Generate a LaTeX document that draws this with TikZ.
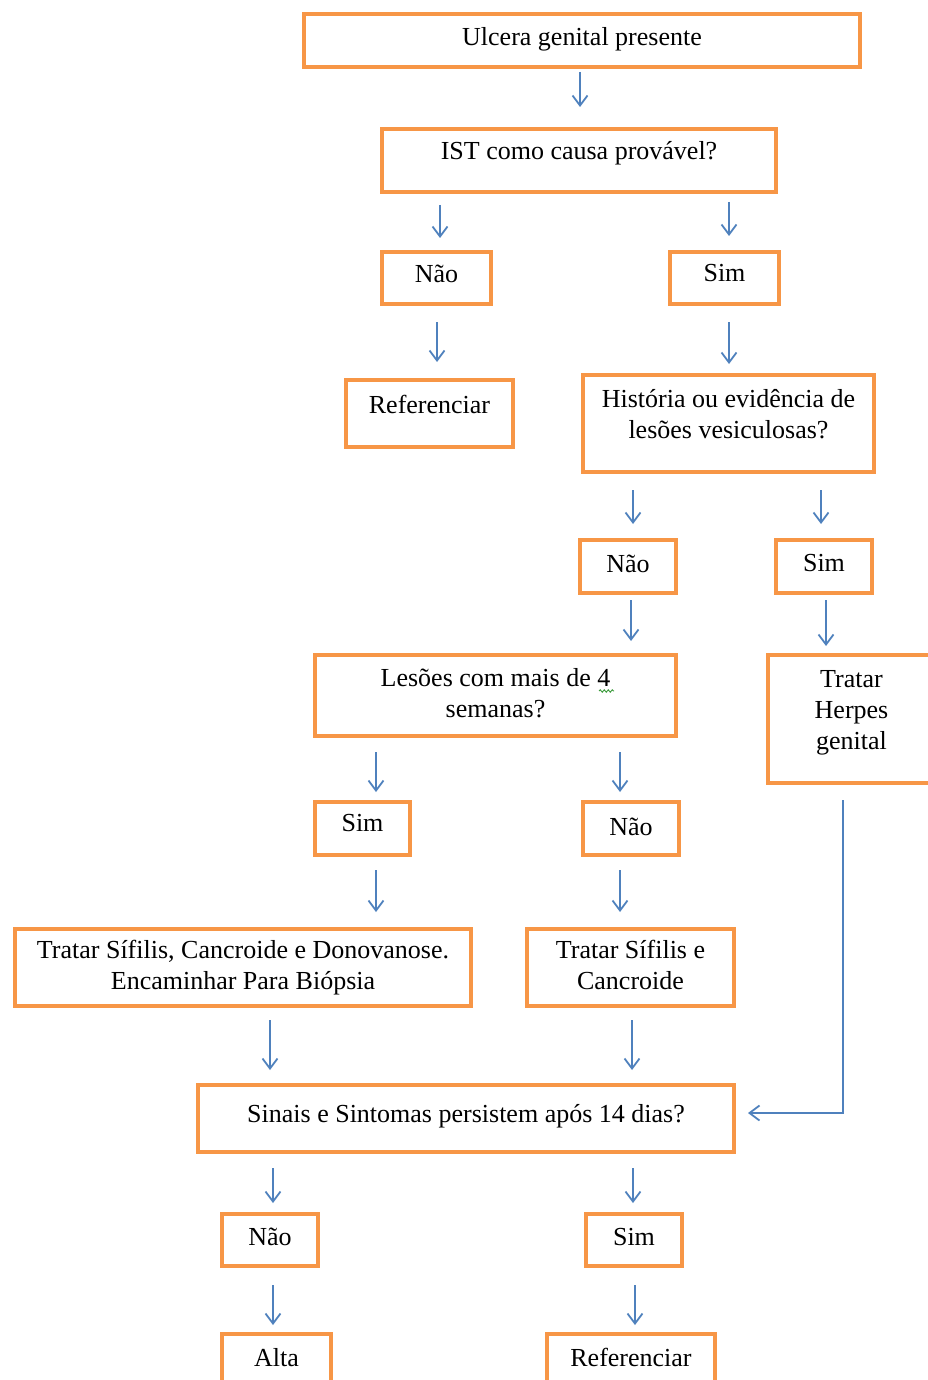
\documentclass[tikz,border=0pt]{standalone}
\usepackage{fontspec}
\setmainfont{Liberation Serif}
\usetikzlibrary{arrows.meta,decorations.pathmorphing}
\definecolor{boxorange}{HTML}{F79646}
\definecolor{linkblue}{HTML}{4F81BD}
\definecolor{spellgreen}{HTML}{3A9A3A}
% raise text inside a box without changing the box size
\newcommand{\raisetext}[2]{\raisebox{#1}[\height][\depth]{#2}}
\newcommand{\twolines}[2]{\begin{tabular}{@{}c@{}}#1\\#2\end{tabular}}
\begin{document}
\begin{tikzpicture}[x=1pt,y=-1pt,
  flowbox/.style={draw=boxorange, line width=4pt, fill=white, rectangle,
    inner sep=0pt, align=center, font=\fontsize{26}{31}\selectfont},
  link/.style={draw=linkblue, line width=1.8pt,
    -{Straight Barb[length=10pt,width=15pt,line width=1.8pt]}}]
\useasboundingbox (0,0) rectangle (928,1380);
\clip (0,0) rectangle (928,1380);

% boxes
\node[flowbox, minimum width=556, minimum height=53] (ulc) at (582,40.5) {\raisetext{1pt}{Ulcera genital presente}};
\node[flowbox, minimum width=394, minimum height=63] (ist) at (579,160.5) {\raisetext{7pt}{IST como causa provável?}};
\node[flowbox, minimum width=109, minimum height=52] (nao1) at (436.5,278) {\raisetext{4pt}{Não}};
\node[flowbox, minimum width=109, minimum height=52] (sim1) at (724.5,278) {\raisetext{5pt}{Sim}};
\node[flowbox, minimum width=167, minimum height=67] (ref1) at (429.5,413.5) {\raisetext{9pt}{Referenciar}};
\node[flowbox, minimum width=291, minimum height=97] (hist) at (728.5,423.5)
  {\raisetext{7pt}{\twolines{História ou evidência de}{lesões vesiculosas?}}};
\node[flowbox, minimum width=96, minimum height=53] (nao2) at (628,566.5) {\raisetext{3pt}{Não}};
\node[flowbox, minimum width=96, minimum height=53] (sim2) at (824,566.5) {\raisetext{3pt}{Sim}};
\node[flowbox, minimum width=361, minimum height=81] (les) at (495.5,695.5)
  {\twolines{Lesões com mais de 4}{semanas?}};
\node[flowbox, minimum width=167, minimum height=128] (herp) at (851.5,719)
  {\raisetext{7pt}{\begin{tabular}{@{}c@{}}Tratar\\Herpes\\genital\end{tabular}}};
\node[flowbox, minimum width=95, minimum height=53] (sim3) at (362.5,828.5) {\raisetext{5pt}{Sim}};
\node[flowbox, minimum width=96, minimum height=53] (nao3) at (631,828.5) {\raisetext{2pt}{Não}};
\node[flowbox, minimum width=456, minimum height=77] (trat1) at (243,967.5)
  {\twolines{Tratar Sífilis, Cancroide e Donovanose.}{Encaminhar Para Biópsia}};
\node[flowbox, minimum width=207, minimum height=77] (trat2) at (630.5,967.5)
  {\twolines{Tratar Sífilis e}{Cancroide}};
\node[flowbox, minimum width=536, minimum height=67] (sin) at (466,1118.5)
  {\raisetext{2pt}{Sinais e Sintomas persistem após 14 dias?}};
\node[flowbox, minimum width=96, minimum height=52] (nao4) at (270,1240) {\raisetext{3pt}{Não}};
\node[flowbox, minimum width=96, minimum height=52] (sim4) at (634,1240) {\raisetext{3pt}{Sim}};
\node[flowbox, minimum width=109, minimum height=67] (alta) at (276.5,1367.5) {\raisetext{10pt}{Alta}};
\node[flowbox, minimum width=168, minimum height=67] (ref2) at (631,1367.5) {\raisetext{10pt}{Referenciar}};

% spell-check mark under the 4
\draw[spellgreen, line width=0.9pt, decorate,
  decoration={snake, amplitude=1.2pt, segment length=4pt}] (599,691) -- (614,691);

% connectors
\draw[link] ([shift={(-2,3)}]ulc.south) -- ([shift={(1,-20)}]ist.north);
\draw[link] ([shift={(-139,11)}]ist.south) -- ([shift={(3.5,-12)}]nao1.north);
\draw[link] ([shift={(150,8)}]ist.south) -- ([shift={(4.5,-14)}]sim1.north);
\draw[link] ([shift={(0.5,16)}]nao1.south) -- ([shift={(7.5,-16)}]ref1.north);
\draw[link] ([shift={(4.5,16)}]sim1.south) -- ([shift={(0.5,-9)}]hist.north);
\draw[link] ([shift={(-95.5,16)}]hist.south) -- ([shift={(5,-14)}]nao2.north);
\draw[link] ([shift={(92.5,16)}]hist.south) -- ([shift={(-3,-14)}]sim2.north);
\draw[link] ([shift={(3,5)}]nao2.south) -- ([shift={(135.5,-12)}]les.north);
\draw[link] ([shift={(2,5)}]sim2.south) -- ([shift={(-25.5,-7)}]herp.north);
\draw[link] ([shift={(-119.5,14)}]les.south) -- ([shift={(13.5,-8)}]sim3.north);
\draw[link] ([shift={(124.5,14)}]les.south) -- ([shift={(-11,-8)}]nao3.north);
\draw[link] ([shift={(13.5,13)}]sim3.south) -- ([shift={(133,-15)}]trat1.north);
\draw[link] ([shift={(-11,13)}]nao3.south) -- ([shift={(-10.5,-15)}]trat2.north);
\draw[link] ([shift={(27,12)}]trat1.south) -- ([shift={(-196,-13)}]sin.north);
\draw[link] ([shift={(1.5,12)}]trat2.south) -- ([shift={(166,-13)}]sin.north);
\draw[link] ([shift={(-8.5,15)}]herp.south) |- ([shift={(12,-5.5)}]sin.east);
\draw[link] ([shift={(-193,14)}]sin.south) -- ([shift={(3,-9)}]nao4.north);
\draw[link] ([shift={(167,14)}]sin.south) -- ([shift={(-1,-9)}]sim4.north);
\draw[link] ([shift={(3,17)}]nao4.south) -- ([shift={(-3.5,-7)}]alta.north);
\draw[link] ([shift={(1,17)}]sim4.south) -- ([shift={(4,-7)}]ref2.north);
\end{tikzpicture}
\end{document}
